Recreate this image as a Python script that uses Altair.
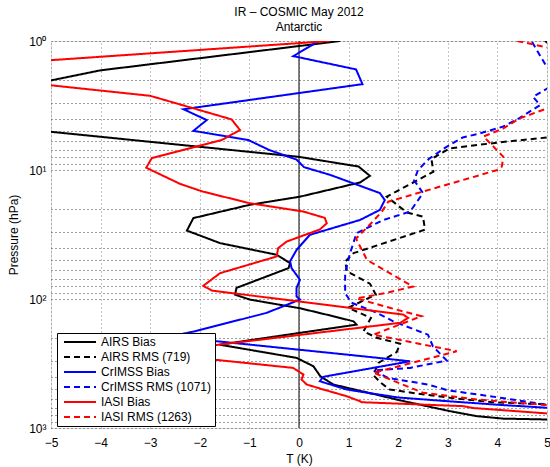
import altair as alt
import pandas as pd

# ---- data (T in K, pressure in hPa) ----
series_names = ["AIRS Bias", "AIRS RMS (719)", "CrIMSS Bias", "CrIMSS RMS (1071)", "IASI Bias", "IASI RMS (1263)"]
series_colors = ["black", "black", "blue", "blue", "red", "red"]
series_dash = [[1, 0], [6, 4], [1, 0], [6, 4], [1, 0], [6, 4]]

airs_bias_T = [0.83, -4.01, -8.4, -0.01, 1.2, 1.43, 1.23, 0.02, -0.99, -2.13, -2.26, -1.59, -0.45, -0.18, -0.21,
               -1.26, -1.29, -0.99, -0.38, 0.02, 0.69, 1.1, 1.16, 0.02, -1.6, -0.05, 0.29, 0.43, 0.69, 1.26, 2.05,
               3.04, 3.58, 4.12, 5.0, 7.0]
airs_bias_P = [1.0, 1.69, 3.73, 7.9, 9.4, 11.1, 12.5, 16.1, 18.6, 23.6, 29.5, 36.9, 45.4, 52.7, 57.6,
               82, 92.6, 101, 111, 118, 136, 149, 158, 183, 226, 286, 332, 397, 460, 518, 612,
               740, 809, 846, 859, 900]

airs_rms_T = [4.96, 6.5, 4.99, 4.05, 3.04, 2.67, 2.71, 1.77, 2.17, 2.5, 2.54, 1.1, 0.93, 0.97, 1.43, 1.55, 0.99,
              1.45, 1.3, 1.57, 2.04, 1.97, 1.6, 1.5, 1.65, 1.83, 2.3, 3.04, 3.92, 5.0, 7.0]
airs_rms_P = [1.0, 2.8, 5.6, 6.1, 6.8, 8.2, 10.3, 16.1, 21.3, 23, 29, 44.1, 51.2, 61.2, 76, 92.6, 117,
              140, 178, 200, 222, 258, 313, 390, 446, 503, 535, 583, 631, 657, 720]

crimss_bias_T = [0.4, -0.115, 1.15, 1.28, -2.33, -1.86, -2.13, -1.02, -0.6, -0.05, 0.1, 0.625, 1.63, 1.73, 1.63,
                 1.23, 0.22, -0.05, -0.18, -0.15, 0.02, -0.05, -0.05, 0.02, -0.65, -2.1, -2.6, 1.29, 2.24, 0.49,
                 0.42, 0.96, 1.4, 2.0, 3.0, 4.0, 5.0, 7.0]
crimss_bias_P = [1.0, 1.31, 1.66, 2.16, 3.38, 4.1, 4.97, 5.86, 7.0, 8.3, 9.5, 10.9, 15.1, 17.1, 20.4,
                 24.4, 31.8, 41.7, 51, 57.6, 71, 82, 95.5, 101, 128, 178, 195, 278, 304, 401,
                 434, 503, 535, 580, 620, 660, 697, 800]

crimss_rms_T = [4.7, 5.0, 5.6, 5.0, 4.72, 4.86, 4.45, 4.12, 3.65, 3.3, 2.95, 2.62, 2.4, 2.32, 2.5, 2.24, 1.7,
                1.16, 1.03, 0.93, 0.93, 1.06, 1.57, 1.9, 2.6, 2.7, 2.98, 2.24, 1.5, 1.8, 2.6, 3.0, 3.85, 5.0, 7.0]
crimss_rms_P = [1.02, 1.6, 2.0, 2.34, 2.71, 3.14, 3.95, 4.6, 5.2, 5.6, 6.7, 8.2, 10, 12, 15.1, 21, 24.4,
                30.9, 44, 63, 90, 107, 128, 149, 189, 233, 300, 342, 358, 410, 460, 510, 567, 660, 780]

iasi_bias_T = [0.62, -7.9, -3.0, -1.36, -1.19, -1.56, -2.97, -3.08, -2.4, -1.94, -0.99, 0.09, 0.52, 0.56, 0.42,
               -0.25, -0.42, -0.45, -1.59, -1.93, -1.76, 2.1, 2.2, 2.04, -3.0, -0.12, 0.09, 0.05, 0.155, 0.49,
               0.96, 1.23, 1.26, 3.31, 3.51, 5.0, 7.0]
iasi_bias_P = [1.0, 1.68, 2.66, 4.05, 4.9, 5.86, 8.1, 9.6, 12.8, 14.7, 18.1, 21, 23.5, 25.9, 28.9,
               35.9, 40.3, 46.8, 63, 79, 86, 132, 140, 153, 262, 342, 385, 420, 460, 503,
               567, 620, 631, 677, 700, 771, 850]

iasi_rms_T = [4.4, 5.0, 6.0, 5.0, 4.45, 4.12, 3.72, 4.12, 4.09, 4.0, 2.5, 1.8, 1.67, 1.45, 1.15, 1.37, 1.83,
              2.3, 1.77, 1.16, 1.83, 2.47, 1.5, 3.18, 1.5, 2.5, 3.58, 5.0, 7.0]
iasi_rms_P = [1.0, 1.12, 2.0, 3.33, 3.98, 4.76, 5.5, 7.9, 9.4, 10.0, 14.7, 17.6, 21, 26, 34, 49.7, 63,
              80, 89.6, 99, 117, 136, 189, 254, 373, 533, 601, 665, 780]

x_ticks = [-5, -4, -3, -2, -1, 0, 1, 2, 3, 4, 5]
y_ticks = [1, 2, 3, 4, 5, 6, 7, 8, 9, 10, 20, 30, 40, 50, 60, 70, 80, 90,
           100, 200, 300, 400, 500, 600, 700, 800, 900, 1000]

# ---- build long table ----
rows = []
all_T = [airs_bias_T, airs_rms_T, crimss_bias_T, crimss_rms_T, iasi_bias_T, iasi_rms_T]
all_P = [airs_bias_P, airs_rms_P, crimss_bias_P, crimss_rms_P, iasi_bias_P, iasi_rms_P]
for name, ts, ps in zip(series_names, all_T, all_P):
    for i, (t, p) in enumerate(zip(ts, ps)):
        rows.append({"series": name, "T": t, "P": p, "idx": i})
df = pd.DataFrame(rows)

FONT = "Liberation Sans"

x_scale = alt.Scale(domain=[-5, 5], nice=False, zero=False)
y_scale = alt.Scale(type="log", domain=[1, 1000], reverse=True, nice=False)

label_expr = ("datum.value == 1 ? '10⁰' : datum.value == 10 ? '10¹' : "
              "datum.value == 100 ? '10²' : datum.value == 1000 ? '10³' : ''")

legend_kw = dict(orient="none", legendX=6, legendY=292, symbolType="stroke",
                 symbolSize=1024, symbolStrokeWidth=2, clipHeight=12, rowPadding=3,
                 padding=3, symbolOffset=3, labelOffset=4, labelFontSize=12,
                 labelFont=FONT, labelColor="black", fillColor="white",
                 strokeColor="black", zindex=1)

lines = alt.Chart(df).mark_line(strokeWidth=2, clip=True).encode(
    x=alt.X("T:Q", scale=x_scale,
            axis=alt.Axis(values=x_ticks, format="d", title="T (K)", grid=True, gridDash=[1, 3],
                          gridColor="#888888", ticks=False, tickSize=0, domain=False, labelFlush=False,
                          labelPadding=9, titlePadding=5, labelFontSize=12, titleFontSize=12,
                          labelFont=FONT, titleFont=FONT, titleFontWeight="normal",
                          labelColor="black", titleColor="black")),
    y=alt.Y("P:Q", scale=y_scale,
            axis=alt.Axis(values=y_ticks, labelExpr=label_expr, title="Pressure (hPa)", grid=True,
                          gridDash=[1, 3], gridColor="#444444", ticks=False, tickSize=0, domain=False,
                          labelOverlap=False, labelPadding=5, titlePadding=8, labelFontSize=12,
                          titleFontSize=12, labelFont=FONT, titleFont=FONT, titleFontWeight="normal",
                          labelColor="black", titleColor="black")),
    color=alt.Color("series:N", scale=alt.Scale(domain=series_names, range=series_colors),
                    sort=series_names, title=None, legend=alt.Legend(**legend_kw)),
    strokeDash=alt.StrokeDash("series:N", scale=alt.Scale(domain=series_names, range=series_dash),
                              sort=series_names, title=None, legend=alt.Legend(**legend_kw)),
    order=alt.Order("idx:Q"),
)

zero_rule = alt.Chart(pd.DataFrame({"T": [0]})).mark_rule(color="black", strokeWidth=1).encode(
    x=alt.X("T:Q", scale=x_scale)
)

chart = alt.layer(zero_rule, lines).properties(
    width=496,
    height=387,
    autosize=alt.AutoSizeParams(type="none"),
    padding={"left": 51, "top": 41, "right": 3, "bottom": 39},
    title=alt.TitleParams(text="IR – COSMIC May 2012", subtitle="Antarctic", fontSize=12,
                          subtitleFontSize=12, font=FONT, subtitleFont=FONT, fontWeight="normal",
                          color="black", subtitleColor="black", anchor="middle", offset=1,
                          subtitlePadding=3),
).configure_view(stroke="black", strokeWidth=1).configure(background="white")

chart.save("out.html", embed_options={"renderer": "svg", "actions": False})
